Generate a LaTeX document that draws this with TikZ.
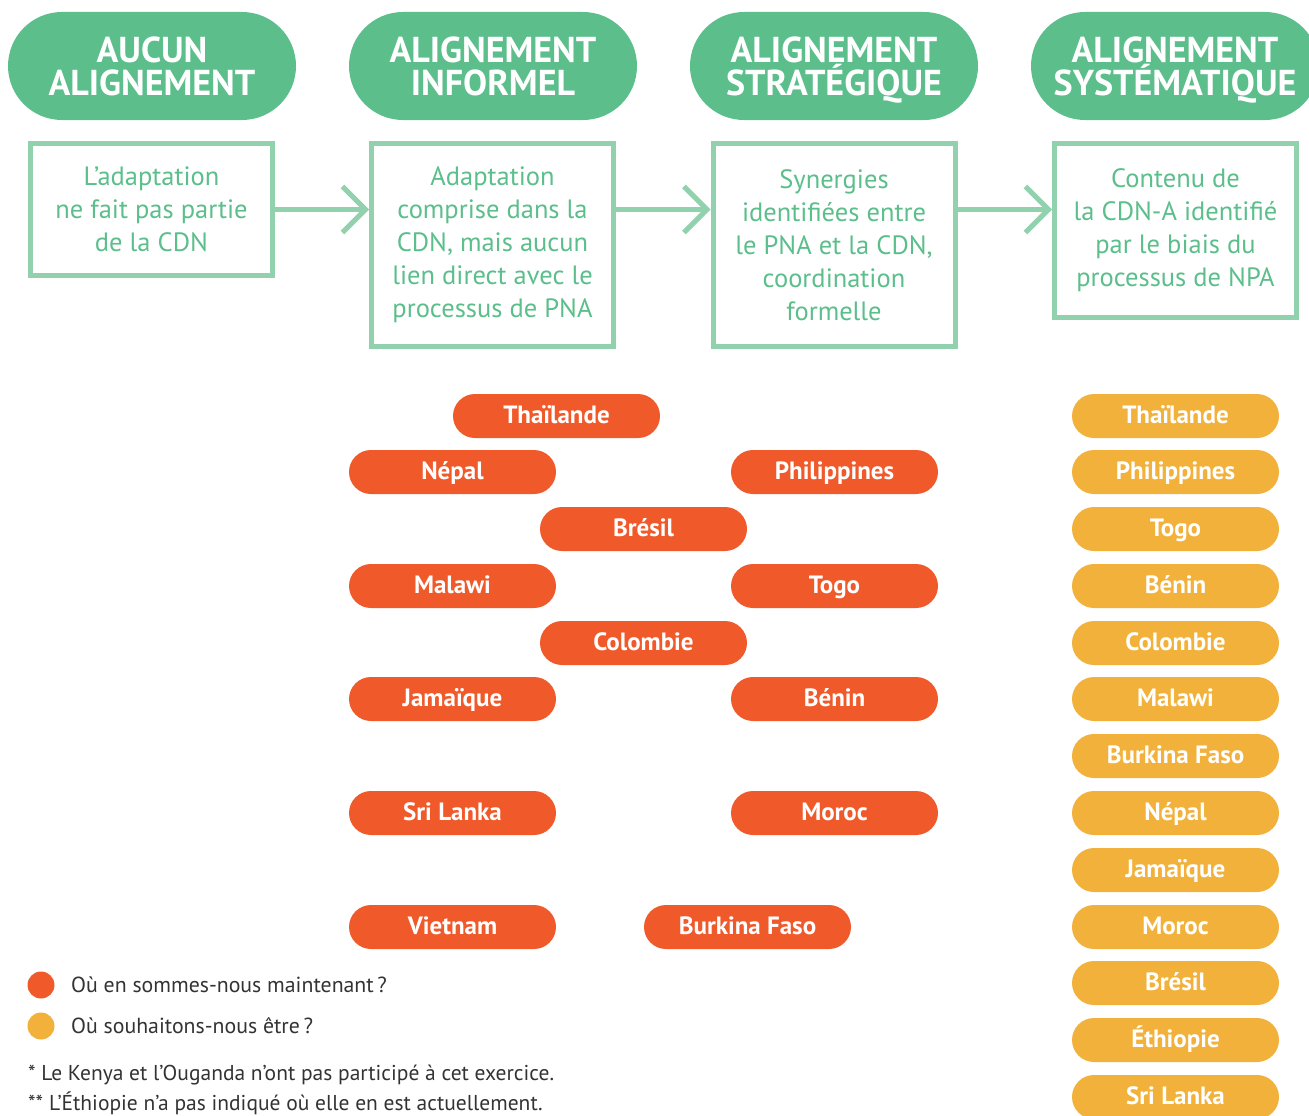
\documentclass[tikz,border=0pt]{standalone}
\usepackage{fontspec}
\setmainfont{PT Sans}
\usetikzlibrary{arrows.meta}
\usepackage{xcolor}
\definecolor{hdrgreen}{HTML}{5BBE8B}
\definecolor{boxgreen}{HTML}{91D1AE}
\definecolor{nowred}{HTML}{F05A2B}
\definecolor{goalyel}{HTML}{F2B13A}
\definecolor{notegrey}{HTML}{333333}
\newcommand{\tightlines}{\lineskiplimit=-30pt\relax}

\begin{document}
\begin{tikzpicture}[x=1pt,y=-1pt,
	header/.style={fill=hdrgreen, rounded corners=54pt, minimum width=288pt, minimum height=108pt, inner sep=0pt, text depth=0pt, text=white, align=center, font=\fontsize{36}{33}\selectfont\bfseries\tightlines},
	stage/.style={draw=boxgreen, line width=5pt, minimum width=242pt, inner sep=0pt, text=hdrgreen, align=center, font=\fontsize{26.5}{33}\selectfont\tightlines},
	now/.style={fill=nowred, rounded corners=22pt, minimum width=207pt, minimum height=44pt, inner sep=0pt, text height=17pt, text depth=3pt, text=white, font=\fontsize{25}{25}\selectfont\bfseries},
	goal/.style={now, fill=goalyel},
	flow/.style={draw=boxgreen, line width=5pt, -{Straight Barb[length=23pt, width=46pt]}},
	note/.style={anchor=west, inner sep=0pt, text=notegrey}]
	\path[use as bounding box, clip] (0,0) rectangle (1309,1116);

	\node (h1) [header] at (152, 66) {AUCUN\\ALIGNEMENT};
	\node (h2) [header] at (493, 66) {ALIGNEMENT\\INFORMEL};
	\node (h3) [header] at (834, 66) {ALIGNEMENT\\STRATÉGIQUE};
	\node (h4) [header] at (1175, 66) {ALIGNEMENT\\SYSTÉMATIQUE};

	\node (s1) [stage, minimum height=132pt] at (151.5, 209.5) {L’adaptation\\ne fait pas partie\\de la CDN};
	\node (s2) [stage, minimum height=203pt] at (492.5, 245) {Adaptation\\comprise dans la\\CDN, mais aucun\\lien direct avec le\\processus de PNA};
	\node (s3) [stage, minimum height=203pt] at (834, 245) {Synergies\\identifiées entre\\le PNA et la CDN,\\coordination\\formelle};
	\node (s4) [stage, minimum height=174pt] at (1175.5, 230.5) {Contenu de\\la CDN-A identifié\\par le biais du\\processus de NPA};
	\draw[flow] (s1.east) -- (s1.east -| s2.west);
	\draw[flow] (s1.east -| s2.east) -- (s1.east -| s3.west);
	\draw[flow] (s1.east -| s3.east) -- (s1.east -| s4.west);

	\node (nthai) [now] at (556.5, 416) {Thaïlande};
	\node (nnep) [now] at (452.5, 472) {Népal};
	\node (nphi) [now] at (834.5, 472) {Philippines};
	\node (nbre) [now] at (643.5, 529) {Brésil};
	\node (nmal) [now] at (452.5, 586) {Malawi};
	\node (ntog) [now] at (834.5, 586) {Togo};
	\node (ncol) [now] at (643.5, 643) {Colombie};
	\node (njam) [now] at (452.5, 699) {Jamaïque};
	\node (nben) [now] at (834.5, 699) {Bénin};
	\node (nsri) [now] at (452.5, 813) {Sri Lanka};
	\node (nmor) [now] at (834.5, 813) {Moroc};
	\node (nvie) [now] at (452.5, 927) {Vietnam};
	\node (nbur) [now] at (747.5, 927) {Burkina Faso};

	\node (gthai) [goal] at (1175.5, 416) {Thaïlande};
	\node (gphi) [goal] at (1175.5, 472) {Philippines};
	\node (gtog) [goal] at (1175.5, 529) {Togo};
	\node (gben) [goal] at (1175.5, 586) {Bénin};
	\node (gcol) [goal] at (1175.5, 643) {Colombie};
	\node (gmal) [goal] at (1175.5, 699) {Malawi};
	\node (gbur) [goal] at (1175.5, 756) {Burkina Faso};
	\node (gnep) [goal] at (1175.5, 813) {Népal};
	\node (gjam) [goal] at (1175.5, 870) {Jamaïque};
	\node (gmor) [goal] at (1175.5, 927) {Moroc};
	\node (gbre) [goal] at (1175.5, 983) {Brésil};
	\node (geth) [goal] at (1175.5, 1040) {Éthiopie};
	\node (gsri) [goal] at (1175.5, 1097) {Sri Lanka};

	\node (lnow) [circle, fill=nowred, minimum size=27pt, inner sep=0pt] at (41, 985) {};
	\node (lgoal) [circle, fill=goalyel, minimum size=27pt, inner sep=0pt] at (41, 1026) {};
	\node (tnow) [note, font=\fontsize{21.8}{21.8}\selectfont] at (71, 985) {Où en sommes-nous maintenant\,?};
	\node (tgoal) [note, font=\fontsize{21.8}{21.8}\selectfont] at (71, 1026) {Où souhaitons-nous être\,?};
	\node (f1) [note, font=\fontsize{21.5}{21.5}\selectfont] at (28, 1075) {* Le Kenya et l’Ouganda n’ont pas participé à cet exercice.};
	\node (f2) [note, font=\fontsize{21.5}{21.5}\selectfont] at (28, 1103) {** L’Éthiopie n’a pas indiqué où elle en est actuellement.};
\end{tikzpicture}
\end{document}
